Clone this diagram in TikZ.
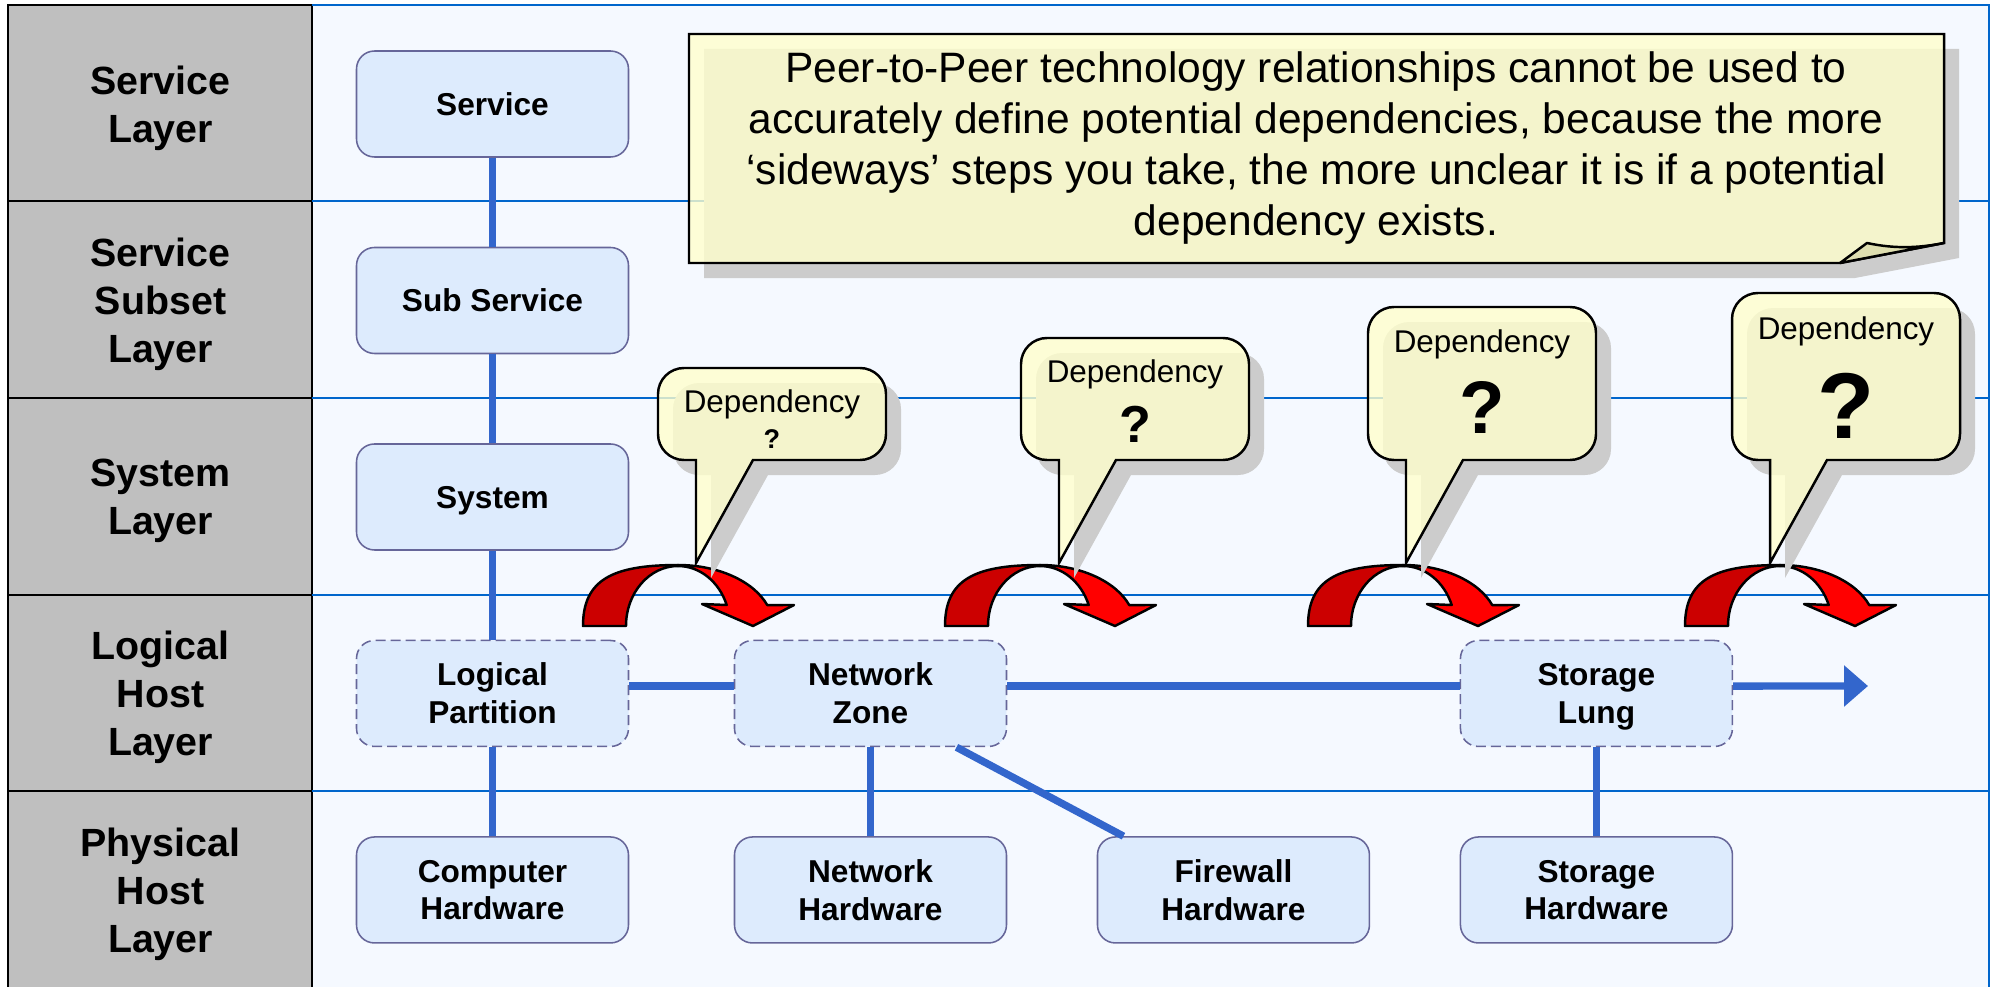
\documentclass[tikz,border=0pt]{standalone}
\usepackage{fontspec}
\setmainfont{Liberation Sans}
\usepackage{tikz}
\usetikzlibrary{arrows.meta}

\definecolor{colgray}{RGB}{191,191,191}
\definecolor{areabg}{RGB}{245,249,255}
\definecolor{rowblue}{RGB}{0,102,204}
\definecolor{boxfill}{RGB}{221,235,253}
\definecolor{boxline}{RGB}{102,102,153}
\definecolor{linkblue}{RGB}{51,102,204}
\definecolor{notefill}{RGB}{255,255,204}
\definecolor{flapfill}{RGB}{222,222,176}
\definecolor{shadowgray}{RGB}{204,204,204}
\definecolor{hopdark}{RGB}{204,0,0}
\definecolor{hopred}{RGB}{255,0,0}

\tikzstyle{box} = [rectangle, rounded corners=0.9cm, minimum width=13.6cm, minimum height=5.3cm, text centered, align=center, text depth=0pt, draw=boxline, line width=2.2pt, fill=boxfill, font=\bfseries\fontsize{45}{54}\selectfont]
\tikzstyle{lbox} = [box, dash pattern=on 0.5cm off 0.25cm]
\tikzstyle{layer} = [align=center, text depth=0pt, font=\bfseries\fontsize{56}{68}\selectfont]
\tikzstyle{link} = [draw=linkblue, line width=10.5pt]
\tikzstyle{arrow} = [link, -{Triangle[length=1.2cm, width=2cm]}]
\tikzstyle{rowline} = [draw=rowblue, line width=3.5pt]
\tikzstyle{colline} = [draw=black, line width=3pt]
\tikzstyle{hop} = [draw=black, line width=3.5pt, line join=round]
\tikzstyle{bubble} = [draw=black, line width=3.5pt, fill=notefill, fill opacity=0.8]
\tikzstyle{dropshadow} = [fill=shadowgray, xshift=0.75cm, yshift=-0.75cm]
\tikzstyle{deplabel} = [anchor=base, inner sep=0pt, font=\fontsize{44.7}{50}\selectfont]
\tikzstyle{asklabel} = [anchor=base, inner sep=0pt]

% speech bubble: #1 left edge, #2 top edge (pixels)
\newcommand{\depbubble}[2]{%
  \fill[dropshadow] ({#1+38},460) -- ({#1+38},563) -- ({#1+95},460) -- ({#1+202},460)
    arc[start angle=-90, end angle=0, radius=1.3cm] -- ({#1+228},{#2+26})
    arc[start angle=0, end angle=90, radius=1.3cm] -- ({#1+26},#2)
    arc[start angle=90, end angle=180, radius=1.3cm] -- (#1,434)
    arc[start angle=180, end angle=270, radius=1.3cm] -- cycle;
  \filldraw[bubble] ({#1+38},460) -- ({#1+38},563) -- ({#1+95},460) -- ({#1+202},460)
    arc[start angle=-90, end angle=0, radius=1.3cm] -- ({#1+228},{#2+26})
    arc[start angle=0, end angle=90, radius=1.3cm] -- ({#1+26},#2)
    arc[start angle=90, end angle=180, radius=1.3cm] -- (#1,434)
    arc[start angle=180, end angle=270, radius=1.3cm] -- cycle;}

\begin{document}
\begin{tikzpicture}[x=0.05cm, y=-0.05cm, node distance=9.825cm]
    \useasboundingbox (0,0) rectangle (1992,987);
    % layer column and rows
    \fill[colgray] (8,5) rectangle (312,987);
    \fill[areabg] (312,5) rectangle (1989,987);
    \draw[colline] (8,987) -- (8,5) -- (312,5) -- (312,987);
    \draw[rowline] (312,5) -- (1989,5) -- (1989,987);
    \foreach \y in {201,398,595,791} {
        \draw[colline] (8,\y) -- (312,\y);
        \draw[rowline] (312,\y) -- (1989,\y);
    }

    \node (service) [box] at (492.5,104) {Service};
    \node (subservice) [box, below of=service] {Sub Service};
    \node (system) [box, below of=subservice] {System};
    \node (partition) [lbox, below of=system] {Logical\\Partition};
    \node (computer) [box, below of=partition] {Computer\\Hardware};
    \node (netzone) [lbox, node distance=18.9cm, right of=partition] {Network\\Zone};
    \node (nethw) [box, below of=netzone] {Network\\Hardware};
    \node (firewall) [box, node distance=18.15cm, right of=nethw] {Firewall\\Hardware};
    \node (storehw) [box, node distance=18.15cm, right of=firewall] {Storage\\Hardware};
    \node (storelun) [lbox, above of=storehw] {Storage\\Lung};
    \coordinate (lunout) at (1868,686);

    \node (svclayer) [layer, node distance=16.6cm, left of=service] {Service\\Layer};
    \node (sublayer) [layer, node distance=16.6cm, left of=subservice] {Service\\Subset\\Layer};
    \node (syslayer) [layer, node distance=16.6cm, left of=system] {System\\Layer};
    \node (loglayer) [layer, node distance=16.6cm, left of=partition] {Logical\\Host\\Layer};
    \node (phylayer) [layer, node distance=16.6cm, left of=computer] {Physical\\Host\\Layer};

    \draw[link] (service) -- (subservice);
    \draw[link] (subservice) -- (system);
    \draw[link] (system) -- (partition);
    \draw[link] (partition) -- (computer);
    \draw[link] ([yshift=0.37cm]partition.east) -- ([yshift=0.37cm]netzone.west);
    \draw[link] ([yshift=0.37cm]netzone.east) -- ([yshift=0.37cm]storelun.west);
    \draw[arrow] ([yshift=0.37cm]storelun.east) -- (lunout);
    \draw[link] (netzone) -- (nethw);
    \draw[link] ([xshift=4.3cm]netzone.south) -- ([xshift=-5.5cm]firewall.north);
    \draw[link] (storelun) -- (storehw);

    % sideways hops
    \foreach \cx in {678,1040,1403,1780} {
        \filldraw[hop, fill=hopdark] ({\cx-95},626) .. controls ({\cx-95},580) and ({\cx-66},565) .. (\cx,565)
            -- (\cx,566) arc[start angle=90, end angle=180, x radius=2.6cm, y radius=3cm] -- cycle;
        \filldraw[hop, fill=hopred] (\cx,565) arc[start angle=90, end angle=20.1, x radius=4.75cm, y radius=3.05cm]
            -- ({\cx+116},605) -- ({\cx+75},626) -- ({\cx+24},604) -- ({\cx+48.7},605)
            arc[start angle=20.5, end angle=90, x radius=2.6cm, y radius=3cm] -- cycle;
    }

    \depbubble{658}{368}
    \depbubble{1021}{338}
    \depbubble{1368}{307}
    \depbubble{1732}{293}
    \node (dep1) [deplabel] at (772,412) {Dependency};
    \node (ask1) [asklabel, font=\bfseries\fontsize{38.5}{44}\selectfont] at (772,448) {?};
    \node (dep2) [deplabel] at (1135,382) {Dependency};
    \node (ask2) [asklabel, font=\bfseries\fontsize{74}{80}\selectfont] at (1135,442) {?};
    \node (dep3) [deplabel] at (1482,352) {Dependency};
    \node (ask3) [asklabel, font=\bfseries\fontsize{106}{110}\selectfont] at (1482,433) {?};
    \node (dep4) [deplabel] at (1846,339) {Dependency};
    \node (ask4) [asklabel, font=\bfseries\fontsize{133}{140}\selectfont] at (1846,438) {?};

    % note
    \fill[dropshadow] (689,34) -- (1944,34) -- (1944,243) -- (1840,263) -- (689,263) -- cycle;
    \filldraw[bubble] (689,34) -- (1944,34) -- (1944,243) -- (1840,263) -- (689,263) -- cycle;
    \filldraw[hop, fill=flapfill] (1840,263) -- (1867,243) .. controls (1895,249) and (1918,248) .. (1944,243) -- cycle;
    \node (notetext) [align=center, font=\fontsize{60.5}{72.5}\selectfont] at (1316,148) {Peer-to-Peer technology relationships cannot be used to\\accurately define potential dependencies, because the more\\‘sideways’ steps you take, the more unclear it is if a potential\\dependency exists.};
\end{tikzpicture}
\end{document}
